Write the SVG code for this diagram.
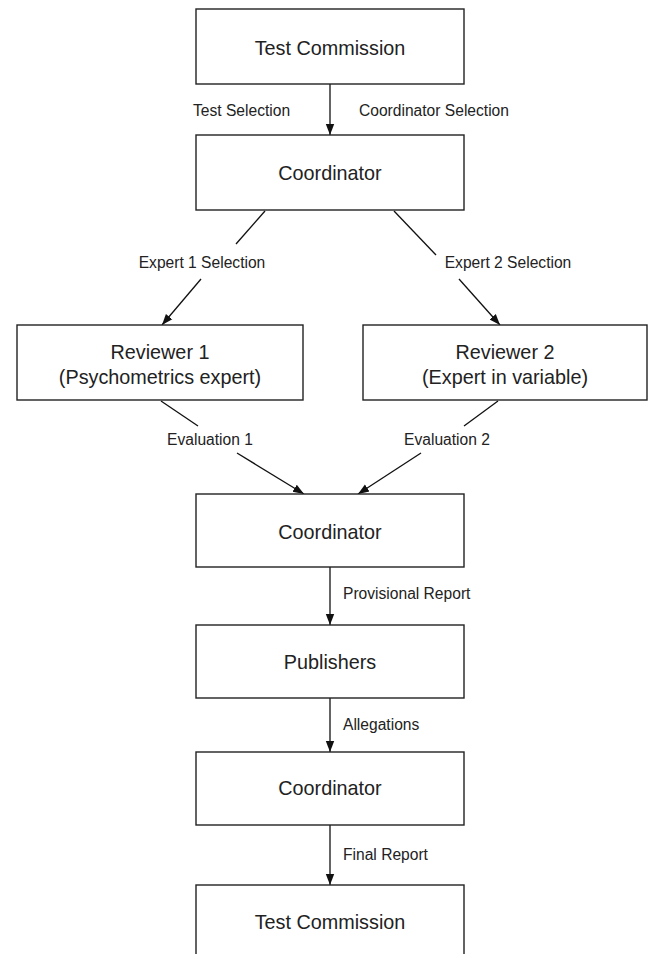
<svg xmlns="http://www.w3.org/2000/svg" width="648" height="954" viewBox="0 0 648 954">
<style>
.box{fill:#fff;stroke:#222;stroke-width:1.4}
.t{font-family:"Liberation Sans",Arial,sans-serif;font-size:19.8px;fill:#222;text-anchor:middle}
.l{font-family:"Liberation Sans",Arial,sans-serif;font-size:15.6px;fill:#222}
.c{text-anchor:middle}
.e{fill:none;stroke:#111;stroke-width:1.3}
</style>
<defs>
<marker id="ah" markerUnits="userSpaceOnUse" markerWidth="12" markerHeight="12" viewBox="0 0 12 12" refX="11" refY="6" orient="auto">
<path d="M0,1.8 L11,6 L0,10.2 Z" fill="#111"/>
</marker>
</defs>
<rect width="648" height="954" fill="#fff"/>
<g id="connectors">
<line class="e" x1="330" y1="84" x2="330" y2="135" marker-end="url(#ah)"/>
<line class="e" x1="265" y1="211" x2="236" y2="244"/>
<line class="e" x1="201" y1="279" x2="162" y2="325" marker-end="url(#ah)"/>
<line class="e" x1="394" y1="211" x2="436" y2="255"/>
<line class="e" x1="459" y1="279" x2="500" y2="325" marker-end="url(#ah)"/>
<line class="e" x1="161" y1="401" x2="198" y2="426"/>
<line class="e" x1="237" y1="453" x2="304" y2="494" marker-end="url(#ah)"/>
<line class="e" x1="498" y1="401" x2="464" y2="426"/>
<line class="e" x1="421" y1="453" x2="358" y2="494" marker-end="url(#ah)"/>
<line class="e" x1="330" y1="567" x2="330" y2="625" marker-end="url(#ah)"/>
<line class="e" x1="330" y1="698" x2="330" y2="752" marker-end="url(#ah)"/>
<line class="e" x1="330" y1="825" x2="330" y2="885" marker-end="url(#ah)"/>
<text class="l" x="193" y="116">Test Selection</text>
<text class="l" x="359" y="116">Coordinator Selection</text>
<text class="l c" x="202" y="268">Expert 1 Selection</text>
<text class="l c" x="508" y="268">Expert 2 Selection</text>
<text class="l c" x="210" y="445">Evaluation 1</text>
<text class="l c" x="447" y="445">Evaluation 2</text>
<text class="l" x="343" y="599">Provisional Report</text>
<text class="l" x="343" y="730">Allegations</text>
<text class="l" x="343" y="860">Final Report</text>
</g>
<g id="n1"><rect class="box" x="196" y="9" width="268" height="75"/><text class="t" x="330" y="55">Test Commission</text></g>
<g id="n2"><rect class="box" x="196" y="135" width="268" height="75"/><text class="t" x="330" y="180">Coordinator</text></g>
<g id="n3"><rect class="box" x="17" y="325" width="286" height="75"/><text class="t" x="160" y="359">Reviewer 1</text><text class="t" x="160" y="384">(Psychometrics expert)</text></g>
<g id="n4"><rect class="box" x="363" y="325" width="284" height="75"/><text class="t" x="505" y="359">Reviewer 2</text><text class="t" x="505" y="384">(Expert in variable)</text></g>
<g id="n5"><rect class="box" x="196" y="494" width="268" height="73"/><text class="t" x="330" y="539">Coordinator</text></g>
<g id="n6"><rect class="box" x="196" y="625" width="268" height="73"/><text class="t" x="330" y="669">Publishers</text></g>
<g id="n7"><rect class="box" x="196" y="752" width="268" height="73"/><text class="t" x="330" y="795">Coordinator</text></g>
<g id="n8"><rect class="box" x="196" y="885" width="268" height="80"/><text class="t" x="330" y="929">Test Commission</text></g>
</svg>
